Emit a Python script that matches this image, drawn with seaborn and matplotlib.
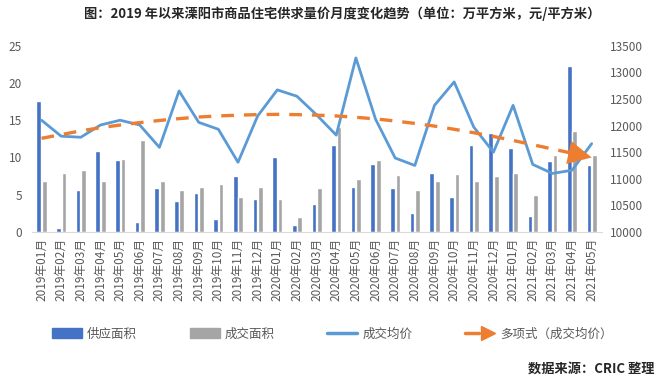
import numpy as np
import pandas as pd
import matplotlib
matplotlib.use("Agg")
import matplotlib.pyplot as plt
import seaborn as sns
from matplotlib.patches import Patch
from matplotlib.lines import Line2D
from matplotlib.legend_handler import HandlerTuple

# data
months = ["2019年01月", "2019年02月", "2019年03月", "2019年04月", "2019年05月", "2019年06月",
          "2019年07月", "2019年08月", "2019年09月", "2019年10月", "2019年11月", "2019年12月",
          "2020年01月", "2020年02月", "2020年03月", "2020年04月", "2020年05月", "2020年06月",
          "2020年07月", "2020年08月", "2020年09月", "2020年10月", "2020年11月", "2020年12月",
          "2021年01月", "2021年02月", "2021年03月", "2021年04月", "2021年05月"]
supply = [17.6, 0.5, 5.6, 10.9, 9.7, 1.3, 5.9, 4.1, 5.2, 1.8, 7.5, 4.4,
          10.0, 0.9, 3.7, 11.7, 6.1, 9.1, 5.9, 2.6, 7.9, 4.7, 11.7, 13.3,
          11.3, 2.2, 9.5, 22.3, 9.0]
deal = [6.8, 7.9, 8.3, 6.8, 9.8, 12.3, 6.9, 5.6, 6.0, 6.4, 4.7, 6.1,
        4.4, 2.0, 5.9, 14.1, 7.1, 9.6, 7.6, 5.6, 6.8, 7.8, 6.9, 7.5,
        7.9, 4.9, 10.3, 13.5, 10.3]
price = [12100, 11800, 11780, 12010, 12100, 12010, 11590, 12650, 12060, 11930, 11310, 12180,
         12670, 12550, 12200, 11820, 13270, 12120, 11390, 11250, 12380, 12820, 11970, 11500,
         12380, 11270, 11100, 11160, 11660]
trend = [11760, 11830, 11900, 11960, 12010, 12055, 12095, 12130, 12160, 12180, 12195, 12205,
         12210, 12205, 12195, 12180, 12155, 12125, 12085, 12040, 11990, 11930, 11865, 11795,
         11720, 11640, 11560, 11480, 11400]

blue = "#4472C4"
gray = "#A5A5A5"
line_blue = "#5B9BD5"
orange = "#ED7D31"
tick_color = "#595959"

sns.set_style("white")
plt.rcParams["font.family"] = ["Noto Sans CJK SC", "DejaVu Sans"]

df = pd.DataFrame({"月份": months * 2,
                   "面积": supply + deal,
                   "类型": ["供应面积"] * len(months) + ["成交面积"] * len(months)})

fig = plt.figure(figsize=(6.65, 3.82), dpi=100)
ax = fig.add_axes([31.7 / 665, 1 - 232 / 382, 569.8 / 665, 186.3 / 382])

sns.barplot(data=df, x="月份", y="面积", hue="类型", palette=[blue, gray],
            width=0.56, gap=0.15, ax=ax, legend=False, saturation=1)
ax.set_xlim(-0.5, len(months) - 0.5)
ax.set_ylim(0, 25)
ax.set_yticks(range(0, 26, 5))
ax.set_xlabel("")
ax.set_ylabel("")
ax.set_xticks(range(len(months)))
ax.set_xticklabels(months, rotation=90)
ax.tick_params(axis="x", length=0, pad=4, labelsize=8.5, colors=tick_color)
ax.tick_params(axis="y", length=0, pad=7, labelsize=8.5, colors=tick_color)
for s in ["top", "right", "left"]:
    ax.spines[s].set_visible(False)
ax.spines["bottom"].set_color("#D9D9D9")

ax2 = ax.twinx()
x = np.arange(len(months))
sns.lineplot(x=x, y=price, color=line_blue, linewidth=2.0, ax=ax2)
sns.lineplot(x=x[:-1], y=trend[:-1], color=orange, linewidth=2.4, ax=ax2,
             linestyle=(0, (3.8, 3.0)))
# arrow head at the end of the trend line
ax2.annotate("", xy=(x[-1], trend[-1]), xytext=(x[-2], trend[-2]),
             arrowprops=dict(arrowstyle="-|>,head_length=1.3,head_width=0.65",
                             color=orange, lw=0.01, mutation_scale=13,
                             shrinkA=0, shrinkB=0))
ax2.set_ylim(10000, 13500)
ax2.set_yticks(range(10000, 13501, 500))
ax2.tick_params(axis="y", length=0, pad=6, labelsize=8.5, colors=tick_color)
ax2.set_xlim(-0.5, len(months) - 0.5)
for s in ["top", "right", "left", "bottom"]:
    ax2.spines[s].set_visible(False)

handles = [Patch(color=blue), Patch(color=gray),
           Line2D([0], [0], color=line_blue, lw=2.5),
           (Line2D([0], [0], color=orange, lw=2.5),
            Line2D([0], [0], color=orange, lw=0, marker=">", markersize=10))]
labels = ["供应面积", "成交面积", "成交均价", "多项式（成交均价）"]
fig.legend(handles, labels, loc="center left", bbox_to_anchor=(46 / 665, 1 - 334 / 382),
           ncol=4, frameon=False, fontsize=9, handlelength=2.4, handleheight=0.9,
           handletextpad=0.4, columnspacing=4.2, borderpad=0, labelcolor=tick_color,
           handler_map={tuple: HandlerTuple(ndivide=None, pad=0.2)})

fig.text(342 / 665, 1 - 14 / 382,
         "图：2019 年以来溧阳市商品住宅供求量价月度变化趋势（单位：万平方米，元/平方米）",
         ha="center", va="center", fontsize=9.5, fontweight="bold")
fig.text(655 / 665, 1 - 369 / 382, "数据来源：CRIC 整理", ha="right", va="center",
         fontsize=9.5, fontweight="bold")

fig.savefig("out.png", dpi=100)
